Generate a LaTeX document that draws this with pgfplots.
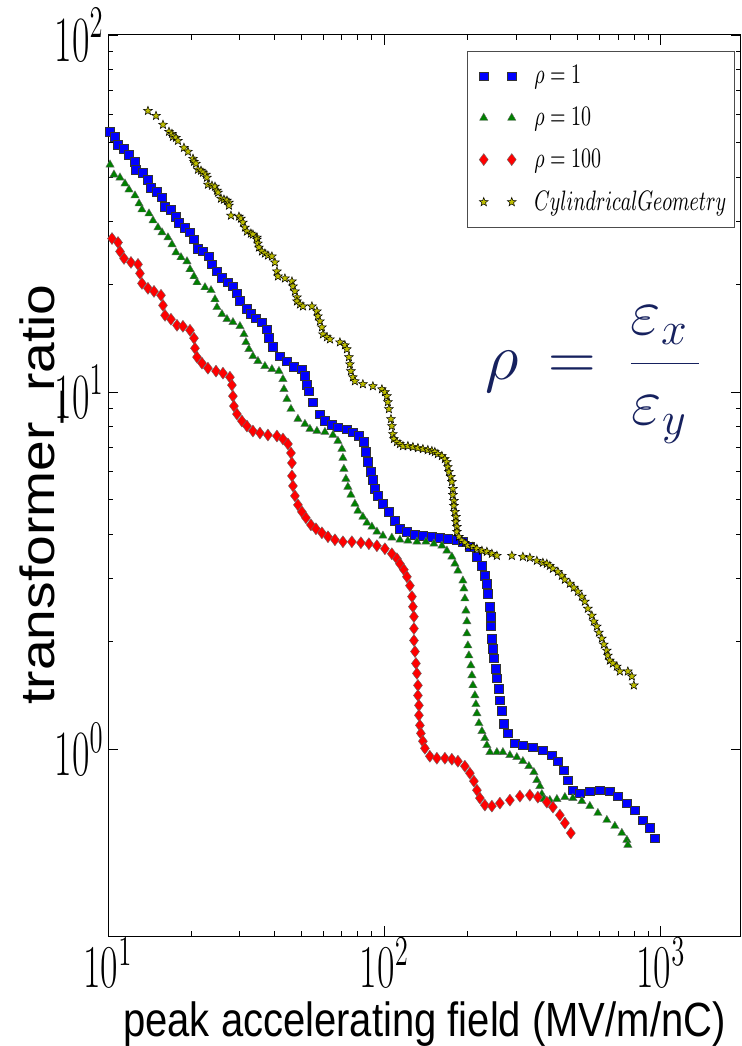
\RequirePackage{fix-cm}
\documentclass[border=0pt]{standalone}
\usepackage{fontspec}
\newfontfamily\labelfont{Liberation Sans}
\usepackage{graphicx}
\usepackage{pgfplots}
\pgfplotsset{compat=1.18}
\definecolor{navy}{RGB}{22,33,94}
\definecolor{myyellow}{rgb}{0.75,0.75,0}
\definecolor{mygreen}{rgb}{0,0.5,0}
\pgfdeclareplotmark{fstar}{%
  \pgfpathmoveto{\pgfpointpolar{90}{\pgfplotmarksize}}%
  \pgfpathlineto{\pgfpointpolar{126}{0.42\pgfplotmarksize}}%
  \pgfpathlineto{\pgfpointpolar{162}{\pgfplotmarksize}}%
  \pgfpathlineto{\pgfpointpolar{198}{0.42\pgfplotmarksize}}%
  \pgfpathlineto{\pgfpointpolar{234}{\pgfplotmarksize}}%
  \pgfpathlineto{\pgfpointpolar{270}{0.42\pgfplotmarksize}}%
  \pgfpathlineto{\pgfpointpolar{306}{\pgfplotmarksize}}%
  \pgfpathlineto{\pgfpointpolar{342}{0.42\pgfplotmarksize}}%
  \pgfpathlineto{\pgfpointpolar{18}{\pgfplotmarksize}}%
  \pgfpathlineto{\pgfpointpolar{54}{0.42\pgfplotmarksize}}%
  \pgfpathclose
  \pgfusepathqfillstroke
}
\begin{document}
\begin{tikzpicture}
\useasboundingbox (-54pt,-55pt) rectangle (317pt,468pt);
\begin{axis}[
  at={(0pt,0pt)}, anchor=south west,
  scale only axis, width=316.5pt, height=450.5pt,
  xmode=log, ymode=log,
  xmin=10, xmax=1950, ymin=0.3, ymax=100,
  xtick={10,100,1000}, ytick={1,10,100},
  xticklabels={\scalebox{1}[1.6]{$10^{1}$},\scalebox{1}[1.6]{$10^{2}$},\scalebox{1}[1.6]{$10^{3}$}},
  yticklabels={\scalebox{1}[1.7]{$10^{0}$},\scalebox{1}[1.7]{$10^{1}$},\scalebox{1}[1.7]{$10^{2}$}},
  tick align=inside,
  major tick length=5pt, minor tick length=2.5pt,
  every tick/.style={black, line width=0.4pt},
  axis line style={black, line width=0.5pt},
  tick label style={font=\fontsize{19}{22}\selectfont, inner sep=2pt},
  xticklabel style={inner sep=1pt},
  xlabel={\scalebox{1}[1.2]{\labelfont\fontsize{20}{24}\selectfont peak accelerating field (MV/m/nC)}},
  ylabel={\scalebox{1.15}[1]{\labelfont\fontsize{24}{28}\selectfont transformer\_ratio}},
  every axis x label/.style={at={(axis description cs:0.5,0)}, yshift=-44pt, anchor=center, inner sep=0pt},
  every axis y label/.style={at={(axis description cs:-0.104,0.49)}, rotate=90, anchor=center, inner sep=0pt},
  legend style={at={(rel axis cs:1,1)}, anchor=north east, xshift=-3pt, yshift=-8pt,
    draw=black!70, line width=0.6pt, font=\fontsize{9.7}{11.6}\selectfont, row sep=6.3pt,
    inner xsep=2pt, inner ysep=5pt},
  legend cell align=left,
  legend image code/.code={\path (0pt,0pt) (29pt,0pt); \draw[#1,only marks] plot coordinates {(6pt,0pt) (20pt,0pt)};},
]
\addplot[only marks, mark=square*, mark size=2.15pt, mark options={fill=blue, draw=black!80, line width=0.25pt}] coordinates {
(10.17,53.6)(10.60,51.9)(10.87,49.3)(11.43,48.0)(11.91,46.2)(12.52,44.2)(12.62,42.0)(13.39,41.2)(13.95,39.4)(14.31,37.4)
(15.04,36.4)(15.68,35.1)(16.08,33.1)(16.90,32.4)(17.62,31.0)(18.06,29.8)(18.99,28.9)(19.80,28.0)(20.47,26.8)(21.16,25.2)
(22.06,24.8)(23.19,24.0)(23.78,22.8)(24.79,21.8)(25.84,20.9)(27.16,20.3)(28.32,19.8)(29.28,18.9)(30.02,18.0)(31.82,17.1)
(32.89,16.6)(34.29,16.1)(36.05,15.7)(37.58,15.0)(38.21,14.2)(39.50,13.4)(41.89,12.6)(44.40,12.2)(47.07,11.8)(50.31,11.6)
(51.58,11.1)(52.45,10.5)(53.33,10.06)(55.13,9.38)(58.44,8.68)(60.93,8.30)(64.59,8.09)(67.89,7.98)(73.17,7.88)(76.92,7.73)
(80.86,7.54)(84.30,7.25)(85.72,6.80)(87.15,6.38)(89.35,5.98)(90.85,5.68)(92.40,5.36)(94.73,5.12)(98.76,4.87)(103.8,4.62)
(109.1,4.36)(113.8,4.14)(120.6,4.06)(129.0,3.99)(137.8,3.96)(148.5,3.94)(158.8,3.91)(169.7,3.89)(182.9,3.86)(192.3,3.81)
(203.8,3.69)(216.0,3.46)(225.3,3.27)(230.9,3.06)(234.8,2.91)(236.8,2.73)(240.8,2.51)(242.8,2.35)(242.8,2.21)(244.8,2.04)
(246.9,1.91)(248.9,1.80)(253.1,1.68)(255.2,1.58)(259.5,1.48)(261.7,1.37)(266.1,1.28)(270.5,1.18)(279.7,1.11)(296.5,1.04)
(316.9,1.026)(344.4,1.013)(374.4,0.994)(403.6,0.962)(424.3,0.926)(445.9,0.874)(461.0,0.819)(480.6,0.768)(509.4,0.753)(553.6,0.763)
(601.8,0.768)(654.0,0.763)(699.0,0.739)(753.6,0.707)(805.4,0.675)(860.9,0.633)(912.7,0.602)(951.3,0.564)
};
\addlegendentry{\scalebox{1}[1.45]{$\rho = 1$}}
\addplot[only marks, mark=triangle*, mark size=2.4pt, mark options={fill=mygreen, draw=black!60, line width=0.2pt}] coordinates {
(10.17,43.34)(10.51,40.64)(11.05,39.87)(11.52,38.36)(11.91,36.91)(12.52,35.51)(12.95,33.73)(13.27,32.45)(14.07,31.62)(14.55,30.23)
(15.16,28.90)(15.68,27.99)(16.48,27.10)(17.04,25.91)(17.62,24.61)(18.37,23.84)(19.31,23.23)(19.80,22.07)(20.47,21.09)(20.99,20.29)
(22.43,19.65)(23.59,19.28)(24.38,18.19)(24.79,17.28)(25.84,16.52)(26.94,16.00)(28.32,15.69)(30.02,15.29)(31.04,14.52)(31.56,13.79)
(32.35,13.19)(33.45,12.60)(34.87,12.21)(36.96,11.82)(39.18,11.59)(41.54,11.45)(42.95,10.87)(43.31,10.19)(44.40,9.560)(45.91,8.965)
(48.65,8.407)(51.58,8.141)(53.77,7.883)(57.00,7.783)(60.93,7.733)(65.13,7.585)(67.89,7.298)(70.19,6.931)(70.78,6.541)(71.37,6.095)
(72.57,5.715)(73.78,5.428)(75.65,5.156)(78.21,4.865)(80.19,4.651)(83.59,4.475)(86.43,4.306)(90.10,4.197)(93.94,4.064)(98.76,3.961)
(106.4,3.910)(113.8,3.860)(121.6,3.836)(131.1,3.811)(141.3,3.811)(151.0,3.762)(161.4,3.714)(168.3,3.597)(175.4,3.460)(179.9,3.307)
(184.5,3.162)(192.3,2.966)(193.9,2.817)(195.5,2.642)(197.2,2.444)(198.8,2.279)(198.8,2.109)(200.4,1.952)(202.1,1.830)(205.5,1.717)
(207.3,1.610)(209.0,1.510)(212.5,1.415)(214.3,1.336)(216.1,1.260)(219.7,1.182)(225.3,1.123)(230.9,1.073)(234.8,1.026)(240.8,0.9809)
(255.2,0.9809)(268.3,0.9809)(284.4,0.9621)(301.4,0.9498)(316.9,0.9257)(333.2,0.8964)(347.3,0.8625)(356.1,0.8192)(365.1,0.7882)(371.2,0.7487)
(377.5,0.7250)(396.8,0.7203)(420.7,0.7250)(449.7,0.7344)(480.6,0.7297)(518.0,0.7157)(553.6,0.6931)(591.9,0.6627)(637.9,0.6334)(681.9,0.6095)
(722.8,0.5826)(753.6,0.5570)(759.9,0.5394)
};
\addlegendentry{\scalebox{1}[1.45]{$\rho = 10$}}
\addplot[only marks, mark=diamond*, mark size=3pt, mark options={fill=red, draw=black!60, line width=0.2pt}] coordinates {
(10.34,26.92)(10.87,26.24)(11.05,24.77)(11.43,23.68)(12.11,23.08)(12.84,22.79)(13.05,21.50)(13.27,20.16)(13.95,19.53)(14.67,19.15)
(15.55,18.67)(15.81,17.50)(16.08,16.41)(16.90,16.00)(17.77,15.39)(18.67,15.29)(19.80,14.90)(20.47,14.16)(20.64,13.27)(20.99,12.53)
(21.88,12.05)(22.99,11.67)(24.59,11.45)(26.06,11.30)(27.62,11.01)(28.08,10.46)(28.32,9.746)(28.55,9.141)(29.28,8.681)(30.52,8.299)
(31.82,8.037)(33.45,7.783)(35.45,7.683)(37.90,7.585)(40.85,7.537)(42.95,7.393)(44.77,7.159)(45.91,6.756)(46.29,6.335)(46.29,5.826)
(46.68,5.462)(47.46,5.123)(48.65,4.834)(50.30,4.621)(52.01,4.446)(54.22,4.250)(56.52,4.143)(59.42,4.037)(62.49,3.936)(66.22,3.860)
(70.78,3.811)(76.28,3.811)(82.22,3.787)(87.88,3.762)(93.94,3.714)(100.4,3.643)(106.4,3.528)(111.0,3.416)(113.8,3.307)(117.6,3.183)
(120.6,3.042)(123.7,2.872)(125.8,2.676)(126.8,2.508)(127.9,2.352)(127.9,2.178)(127.9,2.016)(129.0,1.878)(130.0,1.739)(131.1,1.631)
(132.2,1.510)(132.2,1.415)(133.3,1.327)(133.3,1.245)(134.4,1.167)(135.5,1.108)(137.8,1.053)(140.1,1.006)(146.0,0.9560)(154.8,0.9438)
(165.5,0.9438)(175.4,0.9377)(184.5,0.9257)(195.5,0.8964)(203.8,0.8568)(210.7,0.8141)(216.1,0.7681)(221.6,0.7297)(230.9,0.6976)(244.8,0.6931)
(261.7,0.7066)(284.4,0.7203)(309.1,0.7391)(335.9,0.7439)(359.1,0.7344)(387.0,0.7111)(407.0,0.6887)(431.3,0.6542)(449.7,0.6213)(472.6,0.5826)
};
\addlegendentry{\scalebox{1}[1.45]{$\rho = 100$}}
\addplot[only marks, mark=fstar, mark size=2.3pt, mark options={fill=myyellow, draw=black, line width=0.25pt}] coordinates {
(13.95,61.33)(14.92,59.39)(15.81,56.08)(16.62,53.59)(17.04,52.90)(17.18,51.90)(17.62,51.56)(17.91,50.56)(18.83,48.34)(19.47,47.12)
(20.30,45.04)(20.47,44.18)(20.81,43.62)(21.16,41.97)(21.70,41.70)(22.06,41.17)(22.62,40.64)(22.80,39.87)(22.99,38.11)(23.78,37.86)
(24.38,37.62)(24.79,36.67)(25.00,36.20)(25.63,34.83)(26.27,34.61)(26.94,34.39)(27.39,33.95)(27.39,33.30)(27.85,31.22)(29.77,31.02)
(30.27,30.62)(30.78,29.85)(31.30,28.90)(31.82,28.17)(32.89,27.80)(33.45,27.63)(34.58,27.10)(34.58,26.75)(34.87,26.08)(35.16,25.41)
(36.05,24.77)(36.96,24.45)(37.90,24.14)(39.18,23.99)(40.17,23.08)(40.85,21.78)(41.19,21.09)(43.66,20.82)(46.29,20.42)(46.68,19.78)
(47.46,19.15)(48.26,18.43)(48.26,17.96)(49.48,17.61)(50.73,17.39)(54.67,17.39)(57.00,16.84)(57.47,16.31)(58.44,15.79)(59.42,15.19)
(59.92,14.52)(61.97,14.25)(63.54,14.06)(69.03,13.79)(71.96,13.53)(73.17,13.19)(74.40,12.53)(75.02,11.97)(75.65,11.45)(76.92,11.01)
(78.21,10.73)(83.59,10.53)(90.85,10.39)(97.94,10.19)(100.4,10.00)(102.1,9.746)(102.9,9.377)(103.8,8.965)(105.6,8.407)(106.4,8.037)
(107.3,7.634)(108.2,7.393)(111.0,7.251)(113.8,7.159)(116.7,7.066)(121.6,7.066)(126.8,7.021)(132.2,6.976)(137.8,6.931)(143.6,6.887)
(148.5,6.843)(152.2,6.799)(156.1,6.712)(161.4,6.626)(165.5,6.500)(168.3,6.376)(169.7,6.173)(171.1,5.979)(174.0,5.789)(175.4,5.606)
(176.9,5.359)(176.9,5.156)(178.4,4.961)(178.4,4.804)(179.9,4.621)(181.4,4.475)(181.4,4.335)(182.9,4.197)(182.9,4.064)(186.0,3.936)
(190.7,3.836)(195.5,3.787)(200.4,3.714)(209.0,3.690)(216.1,3.643)(225.3,3.597)(234.8,3.574)(244.8,3.528)(255.2,3.483)(289.1,3.483)
(316.9,3.460)(335.9,3.438)(356.1,3.372)(374.4,3.330)(387.0,3.307)(396.8,3.265)(407.0,3.204)(424.3,3.141)(438.5,3.062)(449.7,2.985)
(468.7,2.909)(484.6,2.835)(501.0,2.763)(518.0,2.676)(531.1,2.591)(544.5,2.476)(563.0,2.368)(572.4,2.279)(586.9,2.207)(596.9,2.122)
(611.9,2.042)(622.2,1.965)(637.9,1.890)(643.3,1.830)(654.0,1.772)(670.9,1.739)(693.2,1.705)(710.8,1.652)(759.9,1.652)(785.6,1.600)
(798.7,1.510)
};
\addlegendentry{\scalebox{1}[1.45]{$CylindricalGeometry$}}
\node[anchor=west, inner sep=0pt, text=navy, font=\fontsize{33}{39}\selectfont] at (rel axis cs:0.5956,0.6227)
  {$\displaystyle\rho\mkern3mu=\mkern4mu\frac{\varepsilon_{x}\mkern3mu}{\varepsilon_{y}\mkern3mu}$};
\end{axis}
\end{tikzpicture}
\end{document}
